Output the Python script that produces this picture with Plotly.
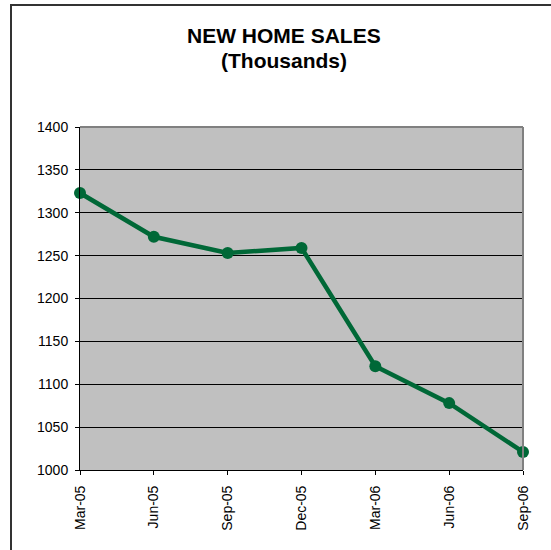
import plotly.graph_objects as go

months = ["Mar-05", "Jun-05", "Sep-05", "Dec-05", "Mar-06", "Jun-06", "Sep-06"]
sales = [1323, 1272, 1253, 1259, 1121, 1078, 1021]
y_ticks = [1000, 1050, 1100, 1150, 1200, 1250, 1300, 1350, 1400]

W, H = 551, 550
L, T = 80, 127
pw, ph = 443, 343
R, B = W - L - pw, H - T - ph

def px(x):  # page pixel -> paper x
    return (x - L) / pw

def py(y):  # page pixel -> paper y
    return (T + ph - y) / ph

fig = go.Figure()
fig.add_trace(go.Scatter(
    x=list(range(len(months))), y=sales, mode="lines+markers",
    line=dict(color="#006837", width=4.5),
    marker=dict(color="#006837", size=12),
    cliponaxis=False, showlegend=False, hoverinfo="skip",
))

font = "Liberation Sans, Arial, sans-serif"
fig.update_layout(
    width=W, height=H,
    margin=dict(l=L, r=R, t=T, b=B),
    paper_bgcolor="white", plot_bgcolor="#C0C0C0",
    font=dict(family=font, size=14, color="black"),
    xaxis=dict(
        range=[0, len(months) - 1], tickvals=list(range(len(months))), ticktext=months,
        tickangle=-90, ticks="outside", ticklen=4, tickcolor="black",
        showline=True, linecolor="black", linewidth=1, showgrid=False, zeroline=False,
        tickfont=dict(size=14), ticklabelstandoff=5, fixedrange=True,
    ),
    yaxis=dict(
        range=[1000, 1400], tickvals=y_ticks,
        ticks="outside", ticklen=4, tickcolor="black",
        showline=True, linecolor="black", linewidth=1,
        showgrid=True, gridcolor="black", gridwidth=1, zeroline=False,
        tickfont=dict(size=14), ticklabelstandoff=4, fixedrange=True,
    ),
    shapes=[
        dict(type="rect", xref="paper", yref="paper", x0=px(11), x1=px(570), y0=py(570), y1=py(5),
             line=dict(color="#333333", width=2), layer="below"),
        dict(type="line", xref="paper", yref="paper", x0=0, x1=1, y0=1, y1=1,
             line=dict(color="#808080", width=2)),
        dict(type="line", xref="paper", yref="paper", x0=1, x1=1, y0=0, y1=1,
             line=dict(color="#808080", width=2)),
    ],
    annotations=[
        dict(text="<b>NEW HOME SALES</b>", xref="paper", yref="paper", x=px(284), y=py(35),
             showarrow=False, font=dict(size=21, family=font), xanchor="center", yanchor="middle"),
        dict(text="<b>(Thousands)</b>", xref="paper", yref="paper", x=px(284), y=py(60),
             showarrow=False, font=dict(size=21, family=font), xanchor="center", yanchor="middle"),
    ],
)

fig.write_html(
    "out.html",
    config={"displayModeBar": False},
    post_script="document.body.style.margin='0';document.body.style.overflow='hidden';",
)
